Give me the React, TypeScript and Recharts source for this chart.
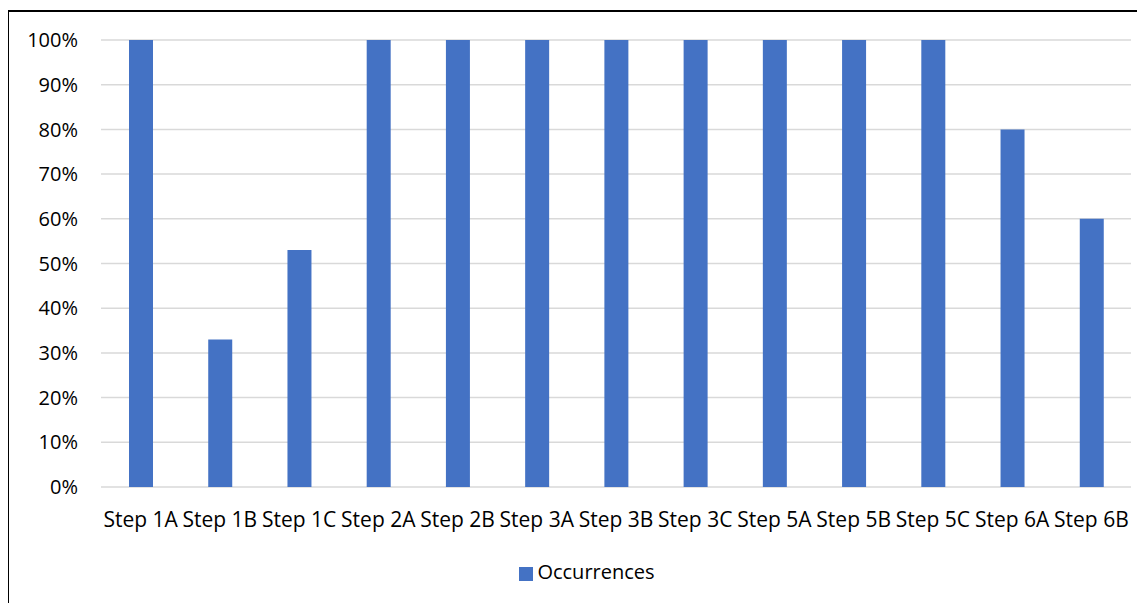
import React from 'react';
import { BarChart, Bar, XAxis, YAxis, CartesianGrid, Legend } from 'recharts';

const STEPS = [
  'Step 1A', 'Step 1B', 'Step 1C', 'Step 2A', 'Step 2B', 'Step 3A', 'Step 3B',
  'Step 3C', 'Step 5A', 'Step 5B', 'Step 5C', 'Step 6A', 'Step 6B',
];
const OCCURRENCES = [100, 33, 53, 100, 100, 100, 100, 100, 100, 100, 100, 80, 60];
const Y_TICKS = [0, 10, 20, 30, 40, 50, 60, 70, 80, 90, 100];

const data = STEPS.map((name, i) => ({ name, Occurrences: OCCURRENCES[i] }));

const FONT = '"Open Sans", sans-serif';

const App: React.FC = () => {
  return (
    <div style={{ position: 'relative', width: 1145, height: 603, margin: '-8px 0 0 -8px', overflow: 'hidden', background: '#fff' }}>
      {/* chart frame, runs off the right and bottom edges */}
      <div
        style={{
          position: 'absolute',
          left: 7,
          top: 10,
          width: 1200,
          height: 700,
          border: '2px solid #000',
          boxSizing: 'border-box',
        }}
      />
      <div style={{ position: 'absolute', left: 0, top: 0 }}>
        <BarChart
          width={1145}
          height={603}
          data={data}
          margin={{ top: 40, right: 14, left: 41, bottom: 76 }}
          style={{ fontFamily: FONT }}
        >
          <CartesianGrid vertical={false} stroke="#d9d9d9" strokeWidth={1.5} />
          <XAxis
            dataKey="name"
            axisLine={false}
            tickLine={false}
            tickSize={0}
            tickMargin={25}
            interval={0}
            height={40}
            tick={{ fill: '#000', fontSize: 21 }}
          />
          <YAxis
            width={60}
            domain={[0, 100]}
            ticks={Y_TICKS}
            tickFormatter={(v: number) => `${v}%`}
            axisLine={false}
            tickLine={false}
            tickSize={0}
            tickMargin={23}
            tick={{ fill: '#000', fontSize: 20 }}
          />
          <Legend
            verticalAlign="middle"
            iconType="square"
            iconSize={14}
            wrapperStyle={{ top: 558, left: 47, fontSize: 20, lineHeight: '28px' }}
            formatter={(value: string) => <span style={{ color: '#000' }}>{value}</span>}
          />
          <Bar dataKey="Occurrences" fill="#4472C4" barSize={24} isAnimationActive={false} />
        </BarChart>
      </div>
    </div>
  );
};

export default App;
